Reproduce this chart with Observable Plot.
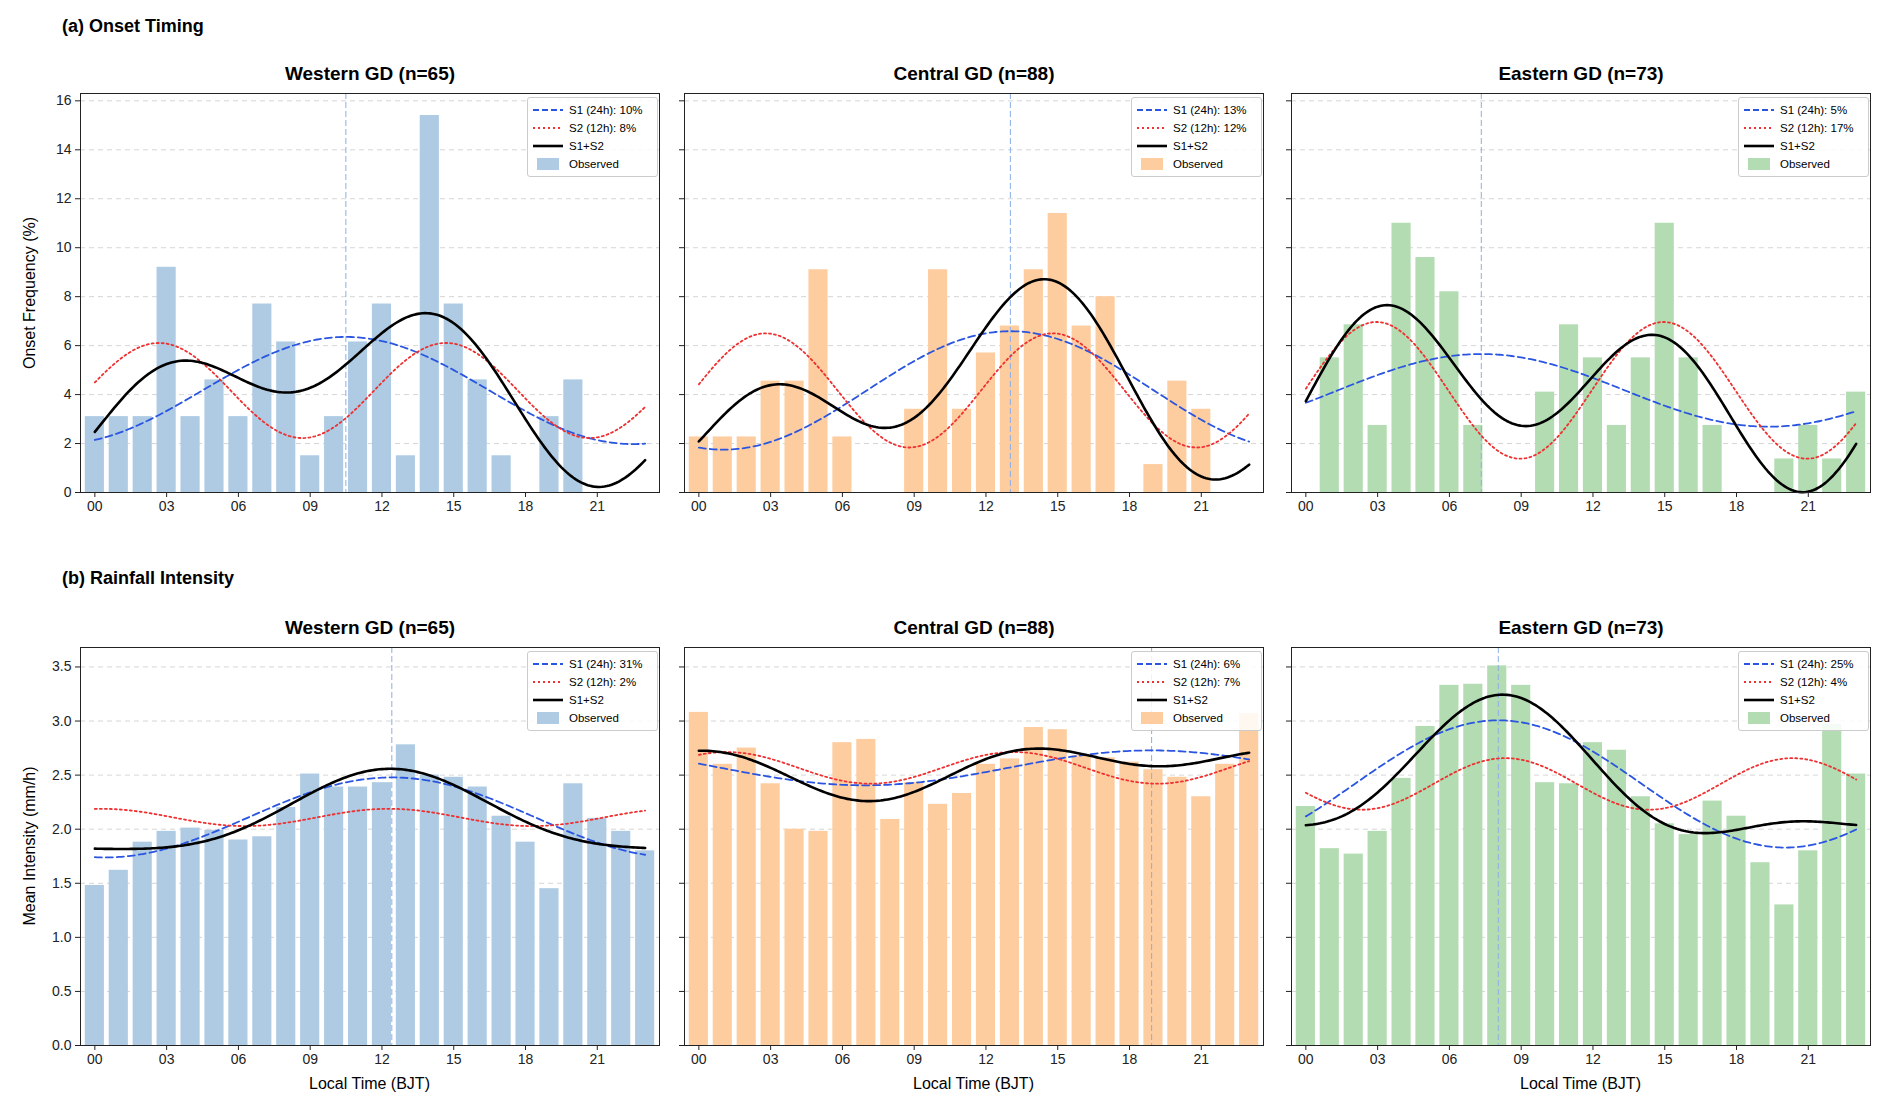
<!DOCTYPE html>
<html><head><meta charset="utf-8">
<script src="https://cdn.jsdelivr.net/npm/d3@7"></script>
<script src="https://cdn.jsdelivr.net/npm/@observablehq/plot@0.6"></script>
<style>
body{margin:0;background:#fff;font-family:"Liberation Sans",Arial,sans-serif;}
#root{position:relative;width:1892px;height:1113px;}
.abs{position:absolute;}
.sec{font-weight:bold;font-size:18px;}
.ttl{font-weight:bold;font-size:19px;text-align:center;width:580px;}
.lab{font-size:16px;}
.leg{border:1px solid #ccc;background:rgba(255,255,255,0.85);font-size:11.5px;padding:3px 6px 3px 5px;border-radius:3px;line-height:18px;}
.leg div{display:flex;align-items:center;gap:6px;}
</style></head><body><div id="root"></div>
<script>
const hours = d3.range(24);
const xTickLabels = ["00","03","06","09","12","15","18","21"];
const regions = ["Western GD (n=65)","Central GD (n=88)","Eastern GD (n=73)"];
const onsetWestern = [3.1,3.1,3.1,9.2,3.1,4.6,3.1,7.7,6.15,1.5,3.1,6.15,7.7,1.5,15.4,7.7,4.6,1.5,0,3.1,4.6,0,0,0];
const onsetCentral = [2.27,2.27,2.27,4.55,4.55,9.1,2.27,0,0,3.4,9.1,3.4,5.7,6.8,9.1,11.4,6.8,8.0,0,1.14,4.55,3.4,0,0];
const onsetEastern = [0,5.5,6.85,2.74,11,9.6,8.2,2.74,0,0,4.1,6.85,5.5,2.74,5.5,11,5.5,2.74,0,0,1.37,2.74,1.37,4.1];
const intWestern = [1.48,1.62,1.88,1.98,2.01,1.99,1.9,1.93,2.2,2.51,2.39,2.39,2.43,2.78,2.5,2.48,2.39,2.12,1.88,1.45,2.42,2.1,1.98,1.8];
const intCentral = [3.08,2.6,2.75,2.42,2.0,1.98,2.8,2.83,2.09,2.43,2.23,2.33,2.6,2.65,2.94,2.92,2.68,2.66,2.62,2.55,2.48,2.3,2.6,3.07];
const intEastern = [2.21,1.82,1.77,1.98,2.47,2.95,3.33,3.34,3.51,3.33,2.43,2.42,2.8,2.73,2.3,2.05,1.95,2.26,2.12,1.69,1.3,1.8,2.97,2.51];
const s1Pct = [[10,13,5],[31,6,25]];
const s2Pct = [[8,12,17],[2,7,4]];
const barColors = ["#aecbe3","#fdcda0","#b3dcb2"];

const root = document.getElementById("root");
function add(html, cls, left, top, extra=""){
  const d=document.createElement("div"); d.className="abs "+cls; d.style.left=left+"px"; d.style.top=top+"px";
  d.style.cssText+=extra; d.innerHTML=html; root.appendChild(d); return d;
}
function fit(y){
  const n=y.length, m=d3.mean(y), c=[];
  for(const k of [1,2]){
    let a=0,b=0; y.forEach((v,h)=>{a+=v*Math.cos(2*Math.PI*k*h/24); b+=v*Math.sin(2*Math.PI*k*h/24);});
    c.push([2*a/n,2*b/n]);
  }
  const f=(k,t)=>c[k][0]*Math.cos(2*Math.PI*(k+1)*t/24)+c[k][1]*Math.sin(2*Math.PI*(k+1)*t/24);
  const phase=Math.atan2(c[0][1],c[0][0]); let peak=phase*24/(2*Math.PI); if(peak<0) peak+=24;
  return {m,f,peak};
}
const frameX=[80,684,1291], frameW=579;
const rows=[
  {data:[onsetWestern,onsetCentral,onsetEastern], top:93, h:399, ymax:16.3, ticks:d3.range(0,17,2), fmt:d=>d, ylab:"Onset Frequency (%)"},
  {data:[intWestern,intCentral,intEastern], top:647, h:398, ymax:3.68, ticks:d3.range(0,3.51,0.5), fmt:d3.format(".1f"), ylab:"Mean Intensity (mm/h)"}
];
add("(a) Onset Timing","sec",62,16);
add("(b) Rainfall Intensity","sec",62,568);
const ML=60,MT=10,MB=40,MR=10;
rows.forEach((row,ri)=>{
  row.data.forEach((y,ci)=>{
    const F=fit(y);
    const ts=d3.range(0,23.0001,0.1);
    const bars=hours.map(h=>({h,v:y[h]}));
    const c1=ts.map(t=>({t,v:F.m+F.f(0,t)})), c2=ts.map(t=>({t,v:F.m+F.f(1,t)})), c3=ts.map(t=>({t,v:F.m+F.f(0,t)+F.f(1,t)}));
    const p=Plot.plot({
      width:frameW+ML+MR, height:row.h+MT+MB, marginLeft:ML, marginRight:MR, marginTop:MT, marginBottom:MB,
      style:{fontFamily:"Liberation Sans, Arial, sans-serif",fontSize:"14px",color:"#222",background:"transparent"},
      x:{domain:[-0.6,23.6], ticks:d3.range(0,22,3), tickFormat:(d,i)=>xTickLabels[i], label:null, tickSize:5},
      y:{domain:[0,row.ymax], ticks:row.ticks, tickFormat:ci===0?row.fmt:()=>"", label:null, tickSize:5},
      marks:[
        Plot.ruleY(row.ticks.slice(1),{stroke:"#ccc",strokeDasharray:"5,4",strokeWidth:0.8}),
        Plot.rectY(bars,{x1:d=>d.h-0.4,x2:d=>d.h+0.4,y1:0,y2:"v",fill:barColors[ci]}),
        Plot.ruleX([F.peak],{stroke:"#8aaee8",strokeDasharray:"6,3",strokeWidth:1}),
        Plot.line(c1,{x:"t",y:"v",stroke:"#2a55e0",strokeWidth:1.8,strokeDasharray:"7,4"}),
        Plot.line(c2,{x:"t",y:"v",stroke:"#ee3030",strokeWidth:1.8,strokeDasharray:"2,3"}),
        Plot.line(c3,{x:"t",y:"v",stroke:"#000",strokeWidth:2.6}),
        Plot.frame({stroke:"#222",strokeWidth:1})
      ]
    });
    const d=add("","",frameX[ci]-ML,row.top-MT); d.appendChild(p);
    add(regions[ci],"ttl",frameX[ci],row.top-30);
    add(`<div><svg width="30" height="6"><line x1="0" x2="30" y1="3" y2="3" stroke="#2a55e0" stroke-width="1.8" stroke-dasharray="6,3"/></svg>S1 (24h): ${s1Pct[ri][ci]}%</div>
<div><svg width="30" height="6"><line x1="0" x2="30" y1="3" y2="3" stroke="#ee3030" stroke-width="1.8" stroke-dasharray="2,3"/></svg>S2 (12h): ${s2Pct[ri][ci]}%</div>
<div><svg width="30" height="6"><line x1="0" x2="30" y1="3" y2="3" stroke="#000" stroke-width="2.6"/></svg>S1+S2</div>
<div><svg width="30" height="12"><rect x="4" y="0" width="22" height="12" fill="${barColors[ci]}"/></svg>Observed</div>`,
      "leg",frameX[ci]+frameW-132,row.top+4,"width:118px;");
  });
  add(row.ylab,"lab",30,row.top+row.h/2,"transform:translate(-50%,-50%) rotate(-90deg);white-space:nowrap;");
});
frameX.forEach(x=>add("Local Time (BJT)","lab",x+frameW/2,1075,"transform:translateX(-50%);white-space:nowrap;"));
</script></body></html>
